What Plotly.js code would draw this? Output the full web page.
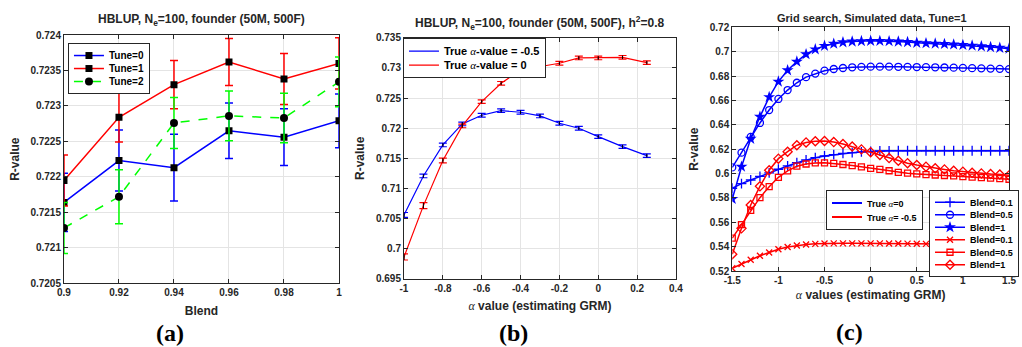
<!DOCTYPE html>
<html><head><meta charset="utf-8">
<script src="https://cdn.plot.ly/plotly-3.0.1.min.js"></script>
<style>html,body{margin:0;padding:0;background:#fff}#chart{width:1022px;height:347px}</style>
</head><body><div id="chart"></div>
<script>
// ---------- Panel (a) ----------
const blendA = [0.9, 0.92, 0.94, 0.96, 0.98, 1.0];
const tune0 = [0.72164, 0.72223, 0.72213, 0.72265, 0.72256, 0.72279];
const tune1 = [0.72195, 0.72284, 0.72330, 0.72362, 0.72338, 0.72360];
const tune2 = [0.72128, 0.72172, 0.72276, 0.72286, 0.72283, 0.72334];
const tune0Err = [0.00041, 0.00043, 0.00047, 0.00039, 0.00040, 0.00038];
const tune1Err = [0.00036, 0.00035, 0.00034, 0.00033, 0.00036, 0.00036];
const tune2Err = [0.00036, 0.00038, 0.00036, 0.00035, 0.00035, 0.00035];
const aXTicks = [0.9, 0.92, 0.94, 0.96, 0.98, 1.0];
const aXLabels = ['0.9', '0.92', '0.94', '0.96', '0.98', '1'];
const aYTicks = [0.7205, 0.721, 0.7215, 0.722, 0.7225, 0.723, 0.7235, 0.724];
const aYLabels = ['0.7205', '0.721', '0.7215', '0.722', '0.7225', '0.723', '0.7235', '0.724'];

// ---------- Panel (b) ----------
const alphaB = [-1, -0.9, -0.8, -0.7, -0.6, -0.5, -0.4, -0.3, -0.2, -0.1, 0, 0.125, 0.25];
const trueNeg05 = [0.70562, 0.71208, 0.71722, 0.72070, 0.72214, 0.72290, 0.72264, 0.72203, 0.72082, 0.71999, 0.71860, 0.71694, 0.71545];
const trueZero = [0.69865, 0.70716, 0.71465, 0.72037, 0.72440, 0.72744, 0.72965, 0.73020, 0.73076, 0.73164, 0.73164, 0.73175, 0.73086];
const trueNeg05Err = [0.0004, 0.0003, 0.0003, 0.0003, 0.0003, 0.0003, 0.0003, 0.0003, 0.0003, 0.0003, 0.0003, 0.0003, 0.0003];
const trueZeroErr = [0.0005, 0.0005, 0.0004, 0.0003, 0.0003, 0.0003, 0.0003, 0.0003, 0.0003, 0.0003, 0.0003, 0.0003, 0.0003];
const bXTicks = [-1, -0.8, -0.6, -0.4, -0.2, 0, 0.2, 0.4];
const bXLabels = ['-1', '-0.8', '-0.6', '-0.4', '-0.2', '0', '0.2', '0.4'];
const bYTicks = [0.695, 0.7, 0.705, 0.71, 0.715, 0.72, 0.725, 0.73, 0.735];
const bYLabels = ['0.695', '0.7', '0.705', '0.71', '0.715', '0.72', '0.725', '0.73', '0.735'];

// ---------- Panel (c) ----------
const alphaC = [-1.5, -1.4, -1.3, -1.2, -1.1, -1.0, -0.9, -0.8, -0.7, -0.6, -0.5, -0.4, -0.3, -0.2, -0.1, 0,
                0.1, 0.2, 0.3, 0.4, 0.5, 0.6, 0.7, 0.8, 0.9, 1.0, 1.1, 1.2, 1.3, 1.4, 1.5];
const blueBlend01 = [0.5879, 0.5917, 0.5947, 0.5977, 0.6005, 0.6035, 0.6062, 0.6089, 0.6111, 0.6130, 0.6144, 0.6155, 0.6165, 0.6171, 0.6177, 0.6182,
                     0.6185, 0.6186, 0.6187, 0.6187, 0.6187, 0.6187, 0.6187, 0.6187, 0.6187, 0.6187, 0.6187, 0.6187, 0.6187, 0.6187, 0.6187];
const blueBlend05 = [0.6050, 0.6171, 0.6300, 0.6415, 0.6521, 0.6612, 0.6685, 0.6745, 0.6791, 0.6820, 0.6844, 0.6858, 0.6866, 0.6872, 0.6875, 0.6877,
                     0.6877, 0.6877, 0.6876, 0.6875, 0.6874, 0.6873, 0.6872, 0.6870, 0.6869, 0.6867, 0.6865, 0.6863, 0.6861, 0.6859, 0.6857];
const blueBlend1 = [0.5791, 0.6056, 0.6285, 0.6466, 0.6627, 0.6754, 0.6847, 0.6918, 0.6979, 0.7019, 0.7048, 0.7065, 0.7077, 0.7083, 0.7087, 0.7089,
                    0.7088, 0.7086, 0.7083, 0.7079, 0.7073, 0.7069, 0.7066, 0.7063, 0.7059, 0.7055, 0.7050, 0.7044, 0.7038, 0.7032, 0.7025];
const redBlend01 = [0.5222, 0.5258, 0.5293, 0.5325, 0.5352, 0.5378, 0.5397, 0.5410, 0.5418, 0.5423, 0.5426, 0.5427, 0.5427, 0.5427, 0.5427, 0.5427,
                    0.5427, 0.5426, 0.5426, 0.5425, 0.5424, 0.5423, 0.5422, 0.5421, 0.5420, 0.5419, 0.5418, 0.5417, 0.5416, 0.5414, 0.5412];
const redBlend05 = [0.5470, 0.5580, 0.5697, 0.5802, 0.5892, 0.5969, 0.6022, 0.6060, 0.6078, 0.6087, 0.6088, 0.6083, 0.6074, 0.6065, 0.6055, 0.6043,
                    0.6034, 0.6023, 0.6010, 0.6003, 0.5997, 0.5991, 0.5988, 0.5984, 0.5980, 0.5975, 0.5970, 0.5966, 0.5963, 0.5958, 0.5953];
const redBlend1 = [0.5338, 0.5550, 0.5742, 0.5895, 0.6027, 0.6122, 0.6179, 0.6232, 0.6255, 0.6265, 0.6267, 0.6258, 0.6242, 0.6222, 0.6198, 0.6175,
                   0.6152, 0.6127, 0.6105, 0.6085, 0.6070, 0.6056, 0.6043, 0.6034, 0.6023, 0.6015, 0.6006, 0.6001, 0.5996, 0.5992, 0.5985];
const cXTicks = [-1.5, -1, -0.5, 0, 0.5, 1, 1.5];
const cXLabels = ['-1.5', '-1', '-0.5', '0', '0.5', '1', '1.5'];
const cYTicks = [0.52, 0.54, 0.56, 0.58, 0.6, 0.62, 0.64, 0.66, 0.68, 0.7, 0.72];
const cYLabels = ['0.52', '0.54', '0.56', '0.58', '0.6', '0.62', '0.64', '0.66', '0.68', '0.7', '0.72'];

const FONT = 'Liberation Sans, Arial, Helvetica, sans-serif';
const INK = '#262626';
const BLUE = '#0000ff', RED = '#ff0000', GREEN = '#00ff00';

function axis(extra) {
  return Object.assign({
    showline: true, mirror: 'ticks', linecolor: INK, linewidth: 1,
    ticks: 'inside', ticklen: 4, tickcolor: INK, tickmode: 'array',
    showgrid: true, gridcolor: '#e4e4e4', gridwidth: 1, zeroline: false,
    tickfont: {family: FONT, size: 10, color: INK, weight: 'bold'}
  }, extra);
}
function ttl(t, s) { return {text: t, standoff: s, font: {family: FONT, size: 12, color: INK, weight: 'bold'}}; }

const alphaSym = "<span style='font-family:Liberation Serif;font-style:italic;font-weight:normal'>α</span>";

const traces = [
  // (a)
  {x: blendA, y: tune0, name: 'Tune=0', type: 'scatter', mode: 'lines+markers', xaxis: 'x', yaxis: 'y', legend: 'legend',
   line: {color: BLUE, width: 1.5}, marker: {symbol: 'square', size: 7, color: 'black'},
   error_y: {type: 'data', array: tune0Err, color: BLUE, thickness: 1.5, width: 4}},
  {x: blendA, y: tune1, name: 'Tune=1', type: 'scatter', mode: 'lines+markers', xaxis: 'x', yaxis: 'y', legend: 'legend',
   line: {color: RED, width: 1.5}, marker: {symbol: 'square', size: 7, color: 'black'},
   error_y: {type: 'data', array: tune1Err, color: RED, thickness: 1.5, width: 4}},
  {x: blendA, y: tune2, name: 'Tune=2', type: 'scatter', mode: 'lines+markers', xaxis: 'x', yaxis: 'y', legend: 'legend',
   line: {color: GREEN, width: 1.5, dash: 'dash'}, marker: {symbol: 'circle', size: 8, color: 'black'},
   error_y: {type: 'data', array: tune2Err, color: GREEN, thickness: 1.5, width: 4}},
  // (b)
  {x: alphaB, y: trueNeg05, name: 'True ' + alphaSym + '-value = -0.5', type: 'scatter', mode: 'lines', xaxis: 'x2', yaxis: 'y2', legend: 'legend2',
   line: {color: BLUE, width: 1.2},
   error_y: {type: 'data', array: trueNeg05Err, color: BLUE, thickness: 1.2, width: 4}},
  {x: alphaB, y: trueZero, name: 'True ' + alphaSym + '-value = 0', type: 'scatter', mode: 'lines', xaxis: 'x2', yaxis: 'y2', legend: 'legend2',
   line: {color: RED, width: 1.2},
   error_y: {type: 'data', array: trueZeroErr, color: RED, thickness: 1.2, width: 4}},
  {x: alphaB, y: trueNeg05, type: 'scatter', mode: 'markers', xaxis: 'x2', yaxis: 'y2', showlegend: false, hoverinfo: 'skip',
   marker: {size: 1, color: 'black'}, error_y: {type: 'data', array: trueNeg05Err, color: 'black', thickness: 1, width: 0}},
  {x: alphaB, y: trueZero, type: 'scatter', mode: 'markers', xaxis: 'x2', yaxis: 'y2', showlegend: false, hoverinfo: 'skip',
   marker: {size: 1, color: 'black'}, error_y: {type: 'data', array: trueZeroErr, color: 'black', thickness: 1, width: 0}},
  // (c) legend-only line entries
  {x: [null], y: [null], name: 'True ' + alphaSym + '=0', type: 'scatter', mode: 'lines', xaxis: 'x3', yaxis: 'y3', legend: 'legend3',
   line: {color: BLUE, width: 2}},
  {x: [null], y: [null], name: 'True ' + alphaSym + '= -0.5', type: 'scatter', mode: 'lines', xaxis: 'x3', yaxis: 'y3', legend: 'legend3',
   line: {color: RED, width: 2}},
  // (c) data
  {x: alphaC, y: blueBlend01, name: 'Blend=0.1', type: 'scatter', mode: 'lines+markers', xaxis: 'x3', yaxis: 'y3', legend: 'legend4',
   line: {color: BLUE, width: 1.5}, marker: {symbol: 'cross-thin-open', size: 7, color: BLUE, line: {color: BLUE, width: 1.3}}},
  {x: alphaC, y: blueBlend05, name: 'Blend=0.5', type: 'scatter', mode: 'lines+markers', xaxis: 'x3', yaxis: 'y3', legend: 'legend4',
   line: {color: BLUE, width: 1.5}, marker: {symbol: 'circle-open', size: 7, color: BLUE, line: {color: BLUE, width: 1.3}}},
  {x: alphaC, y: blueBlend1, name: 'Blend=1', type: 'scatter', mode: 'lines+markers', xaxis: 'x3', yaxis: 'y3', legend: 'legend4',
   line: {color: BLUE, width: 1.5}, marker: {symbol: 'star', size: 9, color: BLUE}},
  {x: alphaC, y: redBlend01, name: 'Blend=0.1', type: 'scatter', mode: 'lines+markers', xaxis: 'x3', yaxis: 'y3', legend: 'legend4',
   line: {color: RED, width: 1.5}, marker: {symbol: 'x-thin-open', size: 6, color: RED, line: {color: RED, width: 1.3}}},
  {x: alphaC, y: redBlend05, name: 'Blend=0.5', type: 'scatter', mode: 'lines+markers', xaxis: 'x3', yaxis: 'y3', legend: 'legend4',
   line: {color: RED, width: 1.5}, marker: {symbol: 'square-open', size: 6, color: RED, line: {color: RED, width: 1.3}}},
  {x: alphaC, y: redBlend1, name: 'Blend=1', type: 'scatter', mode: 'lines+markers', xaxis: 'x3', yaxis: 'y3', legend: 'legend4',
   line: {color: RED, width: 1.5}, marker: {symbol: 'diamond-open', size: 7, color: RED, line: {color: RED, width: 1.3}}}
];

function legendBox(x, y, size) {
  return {x: x, y: y, xanchor: 'left', yanchor: 'top', bgcolor: 'white', bordercolor: INK, borderwidth: 1,
          font: {family: FONT, size: size, color: 'black', weight: 'bold'}, tracegroupgap: 0, itemwidth: 30};
}

const layout = {
  width: 1022, height: 347, margin: {l: 0, r: 0, t: 0, b: 0},
  paper_bgcolor: 'white', plot_bgcolor: 'white',
  xaxis: axis({domain: [0.0626, 0.3317], anchor: 'y', range: [0.9, 1.0], tickvals: aXTicks, ticktext: aXLabels, title: ttl('Blend', 9)}),
  yaxis: axis({domain: [0.1836, 0.8991], anchor: 'x', range: [0.7205, 0.724], tickvals: aYTicks, ticktext: aYLabels, title: ttl('R-value', 8)}),
  xaxis2: axis({domain: [0.3953, 0.6614], anchor: 'y2', range: [-1, 0.4], tickvals: bXTicks, ticktext: bXLabels, title: ttl(alphaSym + ' value (estimating GRM)', 8)}),
  yaxis2: axis({domain: [0.196, 0.8914], anchor: 'x2', range: [0.695, 0.735], tickvals: bYTicks, ticktext: bYLabels, title: ttl('R-value', 8)}),
  xaxis3: axis({domain: [0.7165, 0.9873], anchor: 'y3', range: [-1.5, 1.5], tickvals: cXTicks, ticktext: cXLabels, title: ttl(alphaSym + ' values (estimating GRM)', 5)}),
  yaxis3: axis({domain: [0.219, 0.9213], anchor: 'x3', range: [0.52, 0.72], tickvals: cYTicks, ticktext: cYLabels, title: ttl('R-value', 8)}),
  showlegend: true,
  legend: legendBox(0.0665, 0.876, 10),
  legend2: legendBox(0.3943, 0.890, 11),
  legend3: legendBox(0.8082, 0.4524, 9),
  legend4: legendBox(0.909, 0.4524, 9),
  annotations: [
    {text: 'HBLUP, N<sub>e</sub>=100, founder (50M, 500F)', xref: 'paper', yref: 'paper', x: 0.197, y: 0.942, xanchor: 'center', yanchor: 'middle', showarrow: false,
     font: {family: FONT, size: 12, color: INK, weight: 'bold'}},
    {text: 'HBLUP, N<sub>e</sub>=100, founder (50M, 500F), h<sup>2</sup>=0.8', xref: 'paper', yref: 'paper', x: 0.528, y: 0.934, xanchor: 'center', yanchor: 'middle', showarrow: false,
     font: {family: FONT, size: 12, color: INK, weight: 'bold'}},
    {text: 'Grid search, Simulated data, Tune=1', xref: 'paper', yref: 'paper', x: 0.853, y: 0.948, xanchor: 'center', yanchor: 'middle', showarrow: false,
     font: {family: FONT, size: 11, color: INK, weight: 'bold'}},
    {text: '(a)', xref: 'paper', yref: 'paper', x: 0.1663, y: 0.040, xanchor: 'center', yanchor: 'middle', showarrow: false,
     font: {family: 'Liberation Serif, Times New Roman, serif', size: 24, color: 'black', weight: 'bold'}},
    {text: '(b)', xref: 'paper', yref: 'paper', x: 0.502, y: 0.040, xanchor: 'center', yanchor: 'middle', showarrow: false,
     font: {family: 'Liberation Serif, Times New Roman, serif', size: 24, color: 'black', weight: 'bold'}},
    {text: '(c)', xref: 'paper', yref: 'paper', x: 0.8317, y: 0.043, xanchor: 'center', yanchor: 'middle', showarrow: false,
     font: {family: 'Liberation Serif, Times New Roman, serif', size: 24, color: 'black', weight: 'bold'}}
  ]
};

// Tighten the vertical spacing of legend entries (Plotly enforces a 19px minimum row height).
function compressLegend(id, step) {
  const g = document.querySelector('.infolayer g.' + id);
  if (!g) return;
  const items = Array.from(g.querySelectorAll('g.traces'));
  if (items.length < 2) return;
  const parse = el => {
    const m = /translate\(\s*([-\d.eE]+)[ ,]+([-\d.eE]+)\s*\)/.exec(el.getAttribute('transform') || '');
    return m ? [parseFloat(m[1]), parseFloat(m[2])] : null;
  };
  const p0 = parse(items[0]), p1 = parse(items[1]);
  if (!p0 || !p1) return;
  const oldStep = p1[1] - p0[1];
  const y0 = p0[1] - (oldStep - step) / 2;
  items.forEach((el, i) => {
    const p = parse(el);
    if (p) el.setAttribute('transform', 'translate(' + p[0] + ',' + (y0 + i * step) + ')');
  });
  const shrink = (oldStep - step) * items.length;
  g.querySelectorAll('rect.bg').forEach(bg => {
    const h = parseFloat(bg.getAttribute('height'));
    if (!isNaN(h)) bg.setAttribute('height', h - shrink);
  });
}

Plotly.newPlot('chart', traces, layout, {displayModeBar: false, staticPlot: true}).then(() => {
  compressLegend('legend', 13);
  compressLegend('legend2', 14);
  compressLegend('legend3', 14);
  compressLegend('legend4', 12.5);
});
</script>
</body></html>
